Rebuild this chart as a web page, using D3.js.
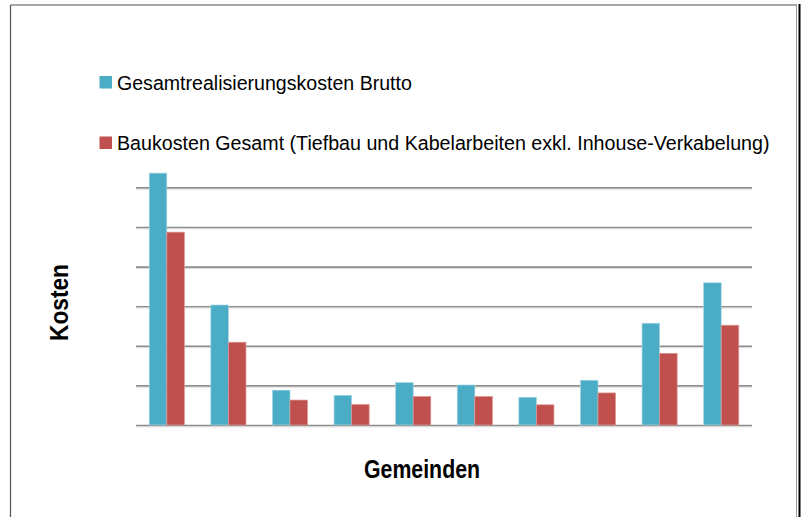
<!DOCTYPE html>
<html>
<head>
<meta charset="utf-8">
<script src="https://cdn.jsdelivr.net/npm/d3@7"></script>
<style>
  html, body { margin: 0; padding: 0; background: #fff; }
  svg { display: block; font-family: "Liberation Sans", Arial, sans-serif; }
</style>
</head>
<body>
<svg id="chart" width="806" height="517"></svg>
<script>
// === Données ===
const gemeinden = ["G1", "G2", "G3", "G4", "G5", "G6", "G7", "G8", "G9", "G10"];
const serien = ["Gesamtrealisierungskosten Brutto",
  "Baukosten Gesamt (Tiefbau und Kabelarbeiten exkl. Inhouse-Verkabelung)"];
const bruttoWerte = [6.36, 3.03, 0.88, 0.75, 1.07, 1.01, 0.70, 1.13, 2.57, 3.59];
const baukostenWerte = [4.87, 2.09, 0.63, 0.52, 0.72, 0.72, 0.51, 0.81, 1.81, 2.52];
const gitterWerte = [0, 1, 2, 3, 4, 5, 6];

const FARBEN = ["#4bacc6", "#c0504d"];
const RAND = ["#a5d5e2", "#dc9896"];

const svg = d3.select('#chart');

// Text horizontal stauchen (schmale Schrift wie im Original)
function schmalerText(sel, breite) {
  const natur = sel.node().getComputedTextLength();
  return natur;
}

// Rahmen
svg.append('line').attr('x1', 10.5).attr('x2', 797).attr('y1', 5).attr('y2', 5)
  .attr('stroke', '#8a8a8a').attr('stroke-width', 1.5);
svg.append('line').attr('x1', 10.5).attr('x2', 10.5).attr('y1', 5).attr('y2', 517)
  .attr('stroke', '#555').attr('stroke-width', 1.2);
svg.append('line').attr('x1', 796.5).attr('x2', 796.5).attr('y1', 5).attr('y2', 517)
  .attr('stroke', '#999').attr('stroke-width', 1);
svg.append('line').attr('x1', 799.5).attr('x2', 799.5).attr('y1', 4).attr('y2', 517)
  .attr('stroke', '#000').attr('stroke-width', 2);

// === Skalen ===
const x0 = d3.scaleBand().domain(gemeinden).range([136, 752])
  .paddingInner(0.43).paddingOuter(0.215);
const x1 = d3.scaleBand().domain([0, 1]).range([0, x0.bandwidth()]);
const y = d3.scaleLinear().domain([0, 6]).range([425, 187.4]);

// Gitterlinien
const grid = svg.append('g').attr('transform', 'translate(136,0)')
  .call(d3.axisLeft(y).tickValues(gitterWerte).tickSize(-616).tickFormat(''));
grid.select('.domain').remove();
grid.selectAll('.tick line').attr('stroke', '#8c8c8c').attr('stroke-width', 1.6);
grid.selectAll('.tick').append('line')
  .attr('x2', 616).attr('y1', 1.3).attr('y2', 1.3)
  .attr('stroke', '#d0d0d0').attr('stroke-width', 0.8);

// === Balken ===
const daten = gemeinden.map((g, i) => ({ g, werte: [bruttoWerte[i], baukostenWerte[i]] }));
const gruppen = svg.append('g').selectAll('g').data(daten).join('g')
  .attr('transform', d => `translate(${x0(d.g)},0)`);
gruppen.selectAll('rect').data(d => d.werte.map((v, k) => ({ v, k }))).join('rect')
  .attr('x', d => x1(d.k))
  .attr('y', d => y(d.v))
  .attr('width', x1.bandwidth())
  .attr('height', d => y(0) - y(d.v))
  .attr('fill', d => FARBEN[d.k])
  .attr('stroke', d => RAND[d.k])
  .attr('stroke-width', 0.7);

// Text mit Zielbreite: wird per scale() gestaucht
function textMitBreite(tx, ty, rot, inhalt, size, weight, breite, anchor) {
  const g = svg.append('g');
  const t = g.append('text')
    .attr('font-size', size).attr('font-weight', weight)
    .attr('text-anchor', anchor).attr('fill', '#000')
    .text(inhalt);
  const sx = breite / t.node().getComputedTextLength();
  g.attr('transform', `translate(${tx},${ty}) rotate(${rot}) scale(${sx},1)`);
}

// === Legende ===
const legendPos = [{ y: 76, base: 90, end: 412 }, { y: 136.5, base: 150, end: 770 }];
serien.forEach((s, i) => {
  svg.append('rect').attr('x', 99.5).attr('y', legendPos[i].y)
    .attr('width', 12.5).attr('height', 12.5).attr('fill', FARBEN[i]);
  textMitBreite(117, legendPos[i].base, 0, s, 21, 'normal', legendPos[i].end - 117, 'start');
});

// === Achsentitel ===
textMitBreite(67.5, 302.5, -90, 'Kosten', 25, 'bold', 77, 'middle');
textMitBreite(422, 478.3, 0, 'Gemeinden', 25, 'bold', 116, 'middle');
</script>
</body>
</html>
